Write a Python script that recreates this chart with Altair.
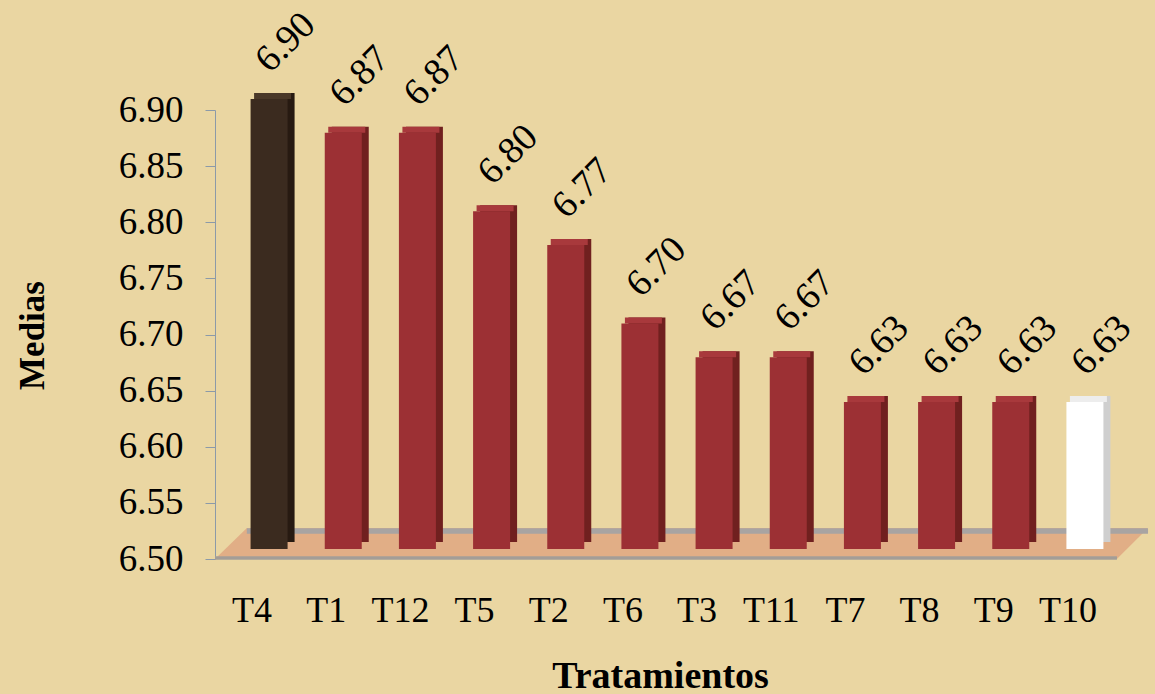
import altair as alt
import pandas as pd

# Treatment means, ordered from highest to lowest
tratamientos = ["T4", "T1", "T12", "T5", "T2", "T6", "T3", "T11", "T7", "T8", "T9", "T10"]
medias = [6.90, 6.87, 6.87, 6.80, 6.77, 6.70, 6.67, 6.67, 6.63, 6.63, 6.63, 6.63]

# Face colours per treatment: front, side, top
front_cols = ["#3B2B1F"] + ["#9C3034"] * 10 + ["#FFFFFF"]
side_cols = ["#271A11"] + ["#70201F"] * 10 + ["#CFCFCF"]
top_cols = ["#4A3828"] + ["#A8393C"] * 10 + ["#EDEDED"]

# Floor plate of the 3D plot (x in band units, y in data units)
floor_x_front = [0.0, 12.16]
floor_x_back = [0.43, 12.58]
floor_y = [6.5, 6.5276]

W, H = 890, 449
SERIF = "Liberation Serif"

df = pd.DataFrame({"T": tratamientos, "m": medias, "base": [6.5] * len(medias)})
df["lbl"] = [f"{v:.2f}" for v in medias]

floor_df = pd.DataFrame({
    "fy": floor_y,
    "x1": [floor_x_front[0], floor_x_back[0]],
    "x2": [floor_x_front[1], floor_x_back[1]],
})

yscale = alt.Scale(domain=[6.5, 6.9], nice=False, zero=False)
xaxis = alt.Axis(title="Tratamientos", orient="bottom", labelAngle=0, labelFont=SERIF,
                 labelFontSize=36, labelColor="black", labelPadding=34,
                 ticks=False, domain=False,
                 titleFont=SERIF, titleFontSize=38, titleFontWeight="bold",
                 titleColor="black", titleY=128, titleBaseline="alphabetic")
xband = alt.X("T:N", sort=tratamientos,
              scale=alt.Scale(paddingInner=0.3, paddingOuter=0.15), axis=xaxis)
yaxis = alt.Axis(title="Medias", orient="left",
                 values=[6.5, 6.55, 6.6, 6.65, 6.7, 6.75, 6.8, 6.85, 6.9],
                 format=".2f", labelFont=SERIF, labelFontSize=37, labelColor="black",
                 labelPadding=22, tickSize=10, tickColor="#8C9AA8", domainColor="#8C9AA8",
                 grid=False, titleFont=SERIF, titleFontSize=35, titleFontWeight="bold",
                 titleColor="black", titleX=-183, titleY=225, titleBaseline="middle")

fx = alt.Scale(domain=[0, 12], nice=False, zero=False)

floor = alt.Chart(floor_df).mark_area(orient="horizontal", color="#E1AE86").encode(
    y=alt.Y("fy:Q", scale=yscale, axis=yaxis),
    x=alt.X("x1:Q", scale=fx, axis=None),
    x2="x2",
)
floor_back = alt.Chart(floor_df).mark_rule(color="#A8A4A2", strokeWidth=5).encode(
    x=alt.datum(floor_x_back[0], scale=fx, axis=None),
    x2=alt.datum(floor_x_back[1]),
    y=alt.datum(floor_y[1]),
    yOffset=alt.value(3),
)
floor_front = alt.Chart(floor_df).mark_rule(color="#A39D97", strokeWidth=3).encode(
    x=alt.datum(floor_x_front[0], scale=fx, axis=None),
    x2=alt.datum(floor_x_front[1]),
    y=alt.datum(floor_y[0]),
    yOffset=alt.value(-1),
)
floor_layer = alt.layer(floor, floor_back, floor_front)

BW = 37   # front-face width
SHIFT = 17  # bars sit a little to the right of their category label
base = alt.Chart(df)

side = base.mark_bar(size=BW, xOffset=SHIFT + 7, yOffset=-17, y2Offset=-17).encode(
    x=xband,
    y=alt.Y("m:Q", scale=yscale, axis=yaxis),
    y2="base",
    color=alt.Color("T:N", scale=alt.Scale(domain=tratamientos, range=side_cols), legend=None),
)
top = base.mark_bar(size=BW, xOffset=SHIFT + 3.5, yOffset=-17, y2Offset=-11).encode(
    x=xband,
    y=alt.Y("m:Q", scale=yscale, axis=yaxis),
    y2="m",
    color=alt.Color("T:N", scale=alt.Scale(domain=tratamientos, range=top_cols), legend=None),
)
front = base.mark_bar(size=BW, xOffset=SHIFT, yOffset=-11, y2Offset=-10).encode(
    x=xband,
    y=alt.Y("m:Q", scale=yscale, axis=yaxis),
    y2="base",
    color=alt.Color("T:N", scale=alt.Scale(domain=tratamientos, range=front_cols), legend=None),
)
labels = base.mark_text(angle=315, align="left", baseline="alphabetic",
                        xOffset=SHIFT + 1, yOffset=-36,
                        font=SERIF, fontSize=38, color="black").encode(
    x=xband,
    y=alt.Y("m:Q", scale=yscale, axis=yaxis),
    text="lbl:N",
)
bars_layer = alt.layer(side, top, front, labels).resolve_scale(color="independent")

chart = alt.layer(floor_layer, bars_layer).resolve_scale(x="independent").properties(
    width=W, height=H,
    autosize="none",
    padding={"left": 215, "top": 110, "right": 50, "bottom": 135},
    background="#EAD6A2",
).configure_view(stroke=None)

chart.save("out.html", embed_options={"renderer": "svg", "actions": False})
